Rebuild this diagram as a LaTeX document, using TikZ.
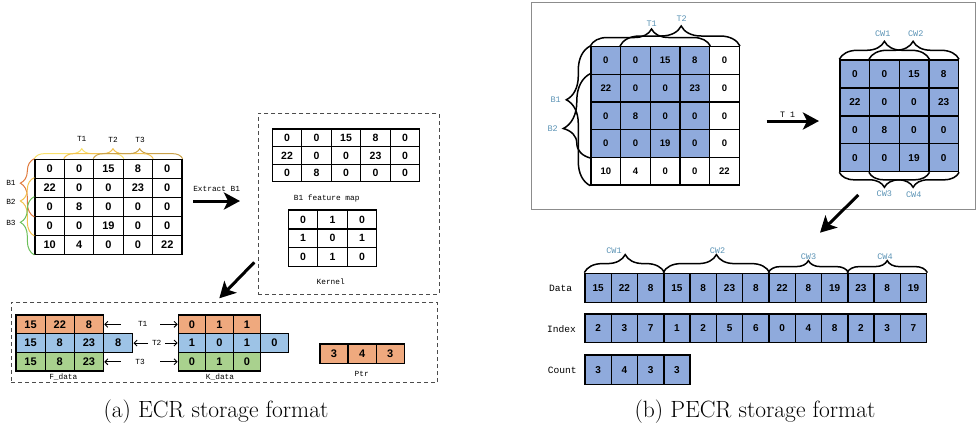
\documentclass[tikz,border=0pt]{standalone}
\usepackage{fontspec}
\usepackage{tikz}
\usetikzlibrary{arrows.meta, decorations.pathreplacing, positioning}
\newfontfamily\numfont{Liberation Sans}
\newfontfamily\lblfont{Liberation Mono}
\definecolor{ecrorange}{HTML}{EFA97E}
\definecolor{ecrblue}{HTML}{9DC3E6}
\definecolor{ecrgreen}{HTML}{A9D18E}
\definecolor{pecrblue}{HTML}{8FAADC}
\definecolor{cwteal}{HTML}{5B93B5}
\definecolor{bryellow}{HTML}{F8E06C}
\definecolor{brgold}{HTML}{F2C14E}
\definecolor{brdark}{HTML}{C9A14A}
\definecolor{brorange}{HTML}{E07A3C}
\definecolor{brgreen}{HTML}{6BBF59}

\tikzset{
  cell/.style={draw, line width=1.3pt, inner sep=0pt, font=\numfont\bfseries\fontsize{#1}{#1}\selectfont},
  cell/.default=11,
  lbl/.style={inner sep=0pt, font=\lblfont\fontsize{7.8}{7.8}\selectfont},
  cwlbl/.style={inner sep=0pt, text=cwteal, font=\lblfont\fontsize{8.5}{8.5}\selectfont},
  rowlbl/.style={inner sep=0pt, font=\lblfont\fontsize{9.6}{9.6}\selectfont},
  brc/.style={decorate, line width=1pt},
  bbrc/.style={decorate, line width=1.5pt},
  dashbox/.style={draw=black!70, line width=0.8pt, dash pattern=on 4pt off 3pt},
  bigarrow/.style={line width=3pt, -{Stealth[length=16pt, width=17pt, inset=4pt]}},
  thinarrow/.style={line width=0.9pt, -{Straight Barb[length=3pt, width=6pt]}}
}

\begin{document}
\begin{tikzpicture}[x=1pt, y=-1pt]
\useasboundingbox (0,0) rectangle (976,432);

\node[draw=black!45, line width=1pt, minimum width=444pt, minimum height=207pt] (pecr) at (753,105.5) {};
\node[dashbox, minimum width=180.7pt, minimum height=180.7pt] (fmbox) at (348.65,203.65) {};
\node[dashbox, minimum width=426.7pt, minimum height=80pt] (databox) at (224.35,342.3) {};

\foreach \rowvals [count=\r] in {{0,0,15,8,0},{22,0,0,23,0},{0,8,0,0,0},{0,0,19,0,0},{10,4,0,0,22}}
  \foreach \v [count=\c] in \rowvals
    \node[cell, minimum width=29.4pt, minimum height=19pt] (a-\r-\c) at ({49.7+29.4*(\c-1)},{168.8+19*(\r-1)}) {\v};

\draw[brc, bryellow, decoration={brace, amplitude=10pt, aspect=0.53}] (a-1-1.north west) -- (a-1-3.north east);
\draw[brc, brgold, decoration={brace, amplitude=10pt, aspect=0.55}] (a-1-2.north west) -- (a-1-4.north east);
\draw[brc, brdark, decoration={brace, amplitude=10pt, aspect=0.52}] (a-1-3.north west) -- (a-1-5.north east);
\draw[brc, brorange, decoration={brace, amplitude=14pt, aspect=0.58}] (a-3-1.south west) -- (a-1-1.north west);
\draw[brc, brgold, decoration={brace, amplitude=14pt, aspect=0.6}] (a-4-1.south west) -- (a-2-1.north west);
\draw[brc, brgreen, decoration={brace, amplitude=14pt, aspect=0.56}] (a-5-1.south west) -- (a-3-1.north west);

\node[lbl] (t1) at (81.7,139) {T1};
\node[lbl] (t2) at (113,140) {T2};
\node[lbl] (t3) at (140,140) {T3};
\node[lbl] (b1) at (11,183.3) {B1};
\node[lbl] (b2) at (11,201.7) {B2};
\node[lbl] (b3) at (11,222.7) {B3};

\node[lbl] (extract) at (216.7,189) {Extract B1};
\coordinate (ex-s) at (193.3,201);
\coordinate (ex-e) at (240,201);
\draw[bigarrow] (ex-s) -- (ex-e);

\foreach \rowvals [count=\r] in {{0,0,15,8,0},{22,0,0,23,0},{0,8,0,0,0}}
  \foreach \v [count=\c] in \rowvals
    \node[cell=10.5, minimum width=29.5pt, minimum height=17.6pt] (m-\r-\c) at ({287.05+29.5*(\c-1)},{137.8+17.6*(\r-1)}) {\v};
\node[lbl] (fmap) at (326.7,198.3) {B1 feature map};

\foreach \rowvals [count=\r] in {{0,1,0},{1,0,1},{0,1,0}}
  \foreach \v [count=\c] in \rowvals
    \node[cell=10.5, minimum width=29.5pt, minimum height=18.9pt] (kn-\r-\c) at ({303.05+29.5*(\c-1)},{219.45+18.9*(\r-1)}) {\v};
\node[lbl] (kernel) at (330.7,281.7) {Kernel};

\coordinate (dg1-s) at (254.3,262.3);
\coordinate (dg1-e) at (219.3,298.3);
\draw[bigarrow] (dg1-s) -- (dg1-e);

\foreach \rowvals [count=\r] in {{15,22,8},{15,8,23,8},{15,8,23}} {
  \ifcase\r\or\def\fc{ecrorange}\or\def\fc{ecrblue}\or\def\fc{ecrgreen}\fi
  \foreach \v [count=\c] in \rowvals
    \node[cell, fill=\fc, minimum width=29.2pt, minimum height=18.7pt] (f-\r-\c) at ({30.6+29.2*(\c-1)},{324.35+18.7*(\r-1)}) {\v};
}
\foreach \rowvals [count=\r] in {{0,1,1},{1,0,1,0},{0,1,0}} {
  \ifcase\r\or\def\fc{ecrorange}\or\def\fc{ecrblue}\or\def\fc{ecrgreen}\fi
  \foreach \v [count=\c] in \rowvals
    \node[cell, fill=\fc, minimum width=27.5pt, minimum height=18.7pt] (kd-\r-\c) at ({192.05+27.5*(\c-1)},{324.35+18.7*(\r-1)}) {\v};
}
\foreach \v [count=\c] in {3,4,3}
  \node[cell, fill=ecrorange, minimum width=28.1pt, minimum height=19.3pt] (p-\c) at ({334.05+28.1*(\c-1)},353.65) {\v};

\node[lbl] (fdata) at (63.3,376.7) {F\_data};
\node[lbl] (kdata) at (220,376.7) {K\_data};
\node[lbl] (ptr) at (361.7,374.3) {Ptr};

\node[lbl] (k1) at (142.7,324.35) {T1};
\node[lbl] (k2) at (156.7,343.05) {T2};
\node[lbl] (k3) at (140,361.75) {T3};
\coordinate (k1-l) at (120.7,324.35);
\coordinate (k1-r) at (160,324.35);
\coordinate (k2-l) at (148,343.05);
\coordinate (k2-r) at (165,343.05);
\coordinate (k3-l) at (120.7,361.75);
\coordinate (k3-r) at (160,361.75);
\draw[thinarrow] (k1-l) -- (f-1-3.east);
\draw[thinarrow] (k1-r) -- (kd-1-1.west);
\draw[thinarrow] (k2-l) -- (f-2-4.east);
\draw[thinarrow] (k2-r) -- (kd-2-1.west);
\draw[thinarrow] (k3-l) -- (f-3-3.east);
\draw[thinarrow] (k3-r) -- (kd-3-1.west);

\foreach \rowvals [count=\r] in {{0,0,15,8,0},{22,0,0,23,0},{0,8,0,0,0},{0,0,19,0,0},{10,4,0,0,22}}
  \foreach \v [count=\c] in \rowvals {
    \def\fc{white}
    \ifnum\r<5 \ifnum\c<5 \def\fc{pecrblue}\fi\fi
    \node[cell=9.5, line width=1.4pt, fill=\fc, minimum width=29.66pt, minimum height=27.66pt] (b-\r-\c) at ({605.83+29.66*(\c-1)},{60.53+27.66*(\r-1)}) {\v};
  }

\draw[bbrc, decoration={brace, amplitude=17pt, aspect=0.51}] (b-1-1.north west) -- (b-1-4.north east);
\draw[bbrc, decoration={brace, amplitude=20pt, aspect=0.51}] (b-1-2.north west) -- (b-1-5.north east);
\draw[bbrc, decoration={brace, amplitude=24pt, aspect=0.615}] (b-5-1.south west) -- (b-1-1.north west);
\draw[bbrc, decoration={brace, amplitude=27pt, aspect=0.35}] (b-4-1.south west) -- (b-2-1.north west);
\node[cwlbl] (pt1) at (651.7,23.3) {T1};
\node[cwlbl] (pt2) at (681.7,19) {T2};
\node[cwlbl, anchor=east] (pb1) at (561,100) {B1};
\node[cwlbl, anchor=east] (pb2) at (558,128.3) {B2};

\node[lbl, font=\lblfont\fontsize{8.3}{8.3}\selectfont] (tone) at (787.5,115) {T 1};
\coordinate (t-s) at (766.7,121);
\coordinate (t-e) at (819,121);
\draw[bigarrow] (t-s) -- (t-e);

\foreach \rowvals [count=\r] in {{0,0,15,8},{22,0,0,23},{0,8,0,0},{0,0,19,0}}
  \foreach \v [count=\c] in \rowvals
    \node[cell=10, line width=1.4pt, fill=pecrblue, minimum width=29.6pt, minimum height=27.9pt] (sm-\r-\c) at ({854.8+29.6*(\c-1)},{73.95+27.9*(\r-1)}) {\v};

\draw[bbrc, decoration={brace, amplitude=18pt, aspect=0.5}] (sm-1-1.north west) -- (sm-1-3.north east);
\draw[bbrc, decoration={brace, amplitude=18pt, aspect=0.49}] (sm-1-2.north west) -- (sm-1-4.north east);
\draw[bbrc, decoration={brace, amplitude=15pt, aspect=0.5}] (sm-4-3.south east) -- (sm-4-1.south west);
\draw[bbrc, decoration={brace, amplitude=15pt, aspect=0.51}] (sm-4-4.south east) -- (sm-4-2.south west);
\node[cwlbl] (scw1) at (882.7,33.3) {CW1};
\node[cwlbl] (scw2) at (915.7,33.3) {CW2};
\node[cwlbl] (scw3) at (884.3,193.3) {CW3};
\node[cwlbl] (scw4) at (913.7,195) {CW4};

\coordinate (dg2-s) at (858.3,195);
\coordinate (dg2-e) at (820,232.7);
\draw[bigarrow] (dg2-s) -- (dg2-e);

\foreach \v [count=\c] in {15,22,8,15,8,23,8,22,8,19,23,8,19}
  \node[cell=10, line width=1.4pt, fill=pecrblue, minimum width=26.28pt, minimum height=29pt] (d-\c) at ({598.14+26.28*(\c-1)},287.8) {\v};
\foreach \v [count=\c] in {2,3,7,1,2,5,6,0,4,8,2,3,7}
  \node[cell=10, line width=1.4pt, fill=pecrblue, minimum width=26.28pt, minimum height=28.7pt] (ix-\c) at ({598.14+26.28*(\c-1)},328.35) {\v};
\foreach \v [count=\c] in {3,4,3,3}
  \node[cell=10, line width=1.4pt, fill=pecrblue, minimum width=26.28pt, minimum height=29.3pt] (cn-\c) at ({598.14+26.28*(\c-1)},369.65) {\v};

\node[rowlbl] (data) at (560.7,288.3) {Data};
\node[rowlbl] (index) at (561.5,329.3) {Index};
\node[rowlbl] (count) at (562.3,370) {Count};

\draw[bbrc, decoration={brace, amplitude=18pt, aspect=0.51}] (d-1.north west) -- (d-3.north east);
\draw[bbrc, decoration={brace, amplitude=18pt, aspect=0.5}] (d-4.north west) -- (d-7.north east);
\draw[bbrc, decoration={brace, amplitude=12pt, aspect=0.5}] (d-8.north west) -- (d-10.north east);
\draw[bbrc, decoration={brace, amplitude=12pt, aspect=0.5}] (d-11.north west) -- (d-13.north east);
\node[cwlbl] (dcw1) at (614,251) {CW1};
\node[cwlbl] (dcw2) at (717.5,251) {CW2};
\node[cwlbl] (dcw3) at (808.5,257) {CW3};
\node[cwlbl] (dcw4) at (885,257) {CW4};

\node[anchor=base, inner sep=0pt, font=\fontsize{23.5}{28}\selectfont] (capa) at (216,417) {(a) ECR storage format};
\node[anchor=base, inner sep=0pt, font=\fontsize{23.5}{28}\selectfont] (capb) at (755,417) {(b) PECR storage format};

\end{tikzpicture}
\end{document}
